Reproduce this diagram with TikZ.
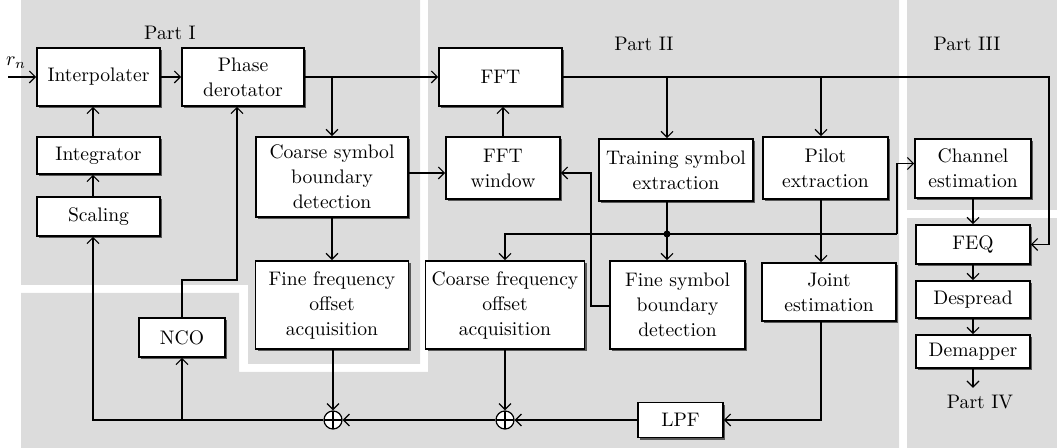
\documentclass[tikz,border=0pt]{standalone}
\usepackage{tikz}
\usetikzlibrary{arrows.meta,shadows}

\definecolor{partgray}{RGB}{220,220,220}

\tikzset{
  blk/.style={draw, line width=0.8pt, fill=white, align=center, inner sep=1pt,
    drop shadow={shadow xshift=1.2pt, shadow yshift=-1.2pt, fill=black!65, opacity=1}},
  wh/.style 2 args={minimum width=#1, minimum height=#2},
  adder/.style={circle, draw, fill=white, minimum size=9pt, inner sep=0pt,
    path picture={\draw (path picture bounding box.north) -- (path picture bounding box.south)
      (path picture bounding box.west) -- (path picture bounding box.east);}},
}

\begin{document}
\begin{tikzpicture}[x=0.5pt, y=-0.5pt, line width=0.6pt,
    >={Straight Barb[length=3pt,width=6pt]},
    font=\fontsize{9.8}{12.5}\selectfont]
  \useasboundingbox (0,0) rectangle (1057,448);

  % grey parts
  \fill[partgray] (21,0) -- (420,0) -- (420,364) -- (248,364) -- (248,285) -- (21,285) -- cycle;
  \fill[partgray] (428,0) -- (899,0) -- (899,448) -- (21,448) -- (21,293) -- (239,293)
    -- (239,372) -- (428,372) -- cycle;
  \fill[partgray] (907,0) rectangle (1057,210);
  \fill[partgray] (907,218) rectangle (1057,448);

  \node (p1) at (170,33) {Part I};
  \node (p2) at (644,44) {Part II};
  \node (p3) at (967,44) {Part III};

  % part I
  \node[blk, wh={61.5pt}{29pt}] (interp) at (98.5,77) {Interpolater};
  \node[blk, wh={61pt}{29pt}] (phase) at (243,77) {Phase\\derotator};
  \node[blk, wh={61.5pt}{18.5pt}] (intg) at (98.5,155.5) {Integrator};
  \node[blk, wh={61.5pt}{19.5pt}] (scl) at (98.5,216.5) {Scaling};
  \node[blk, wh={76pt}{40pt}] (csbd) at (332,177) {Coarse symbol\\boundary\\detection};
  \node[blk, wh={76.5pt}{44pt}] (ffoa) at (332,305) {Fine frequency\\offset\\acquisition};
  \node[blk, wh={43pt}{19.5pt}] (nco) at (182,337.5) {NCO};

  % part II
  \node[blk, wh={61.5pt}{29pt}] (fft) at (500.5,77) {FFT};
  \node[blk, wh={57pt}{31pt}] (fftw) at (503,168) {FFT\\window};
  \node[blk, wh={77pt}{31pt}] (trn) at (676,170) {Training symbol\\extraction};
  \node[blk, wh={62.5pt}{31pt}] (plt) at (825.5,168) {Pilot\\extraction};
  \node[blk, wh={79.5pt}{44pt}] (cfoa) at (505,305) {Coarse frequency\\offset\\acquisition};
  \node[blk, wh={67.5pt}{44pt}] (fsbd) at (677.5,305) {Fine symbol\\boundary\\detection};
  \node[blk, wh={67pt}{29pt}] (jnt) at (829,292) {Joint\\estimation};
  \node[blk, wh={42.5pt}{17.5pt}] (lpf) at (680.5,420) {LPF};
  \node[adder] (s1) at (333,420) {};
  \node[adder] (s2) at (505,420) {};

  % part III and IV
  \node[blk, wh={58pt}{29.5pt}] (chn) at (973,168.5) {Channel\\estimation};
  \node[blk, wh={57pt}{19.5pt}] (feq) at (973,244.5) {FEQ};
  \node[blk, wh={57pt}{18.5pt}] (dsp) at (973,299.5) {Despread};
  \node[blk, wh={57pt}{16.5pt}] (dmp) at (973,351.5) {Demapper};
  \node (p4) at (980,402) {Part IV};

  % corners of the connectors
  \coordinate (rn) at (8,77);
  \coordinate (fr) at (1049,77);
  \coordinate (tx) at (667,234);
  \coordinate (cx) at (897,234);
  \coordinate (jx) at (821,420);
  \coordinate (wx) at (591,306);
  \coordinate (lx) at (93,420);
  \coordinate (nx) at (237,280);

  \node (rnl) at (16,63) {$r_n$};
  \draw[->] (rn) -- (interp.west);
  \draw[->] (interp) -- (phase);
  \draw[->] (phase.east) -- (fft.west);
  \draw[->] (csbd.north |- phase.east) -- (csbd.north);
  \draw[->] ([yshift=-2.5pt]fftw.west -| csbd.east) -- ([yshift=-2.5pt]fftw.west);
  \draw[->] (csbd) -- (ffoa);
  \draw[->] (fftw.north) -- (fftw.north |- fft.south);
  \draw[->] (fft.east) -- (fr) |- (feq.east);
  \draw[->] (fft.east -| tx) -- (trn.north -| tx);
  \draw[->] (fft.east -| jx) -- (plt.north -| jx);
  \draw (trn.south -| tx) -- (tx);
  \draw[->] (tx) -- (fsbd.north -| tx);
  \fill (tx) circle (3.5);
  \draw[->] (cx) -- (tx) -| (cfoa.north);
  \draw[->] (cx) |- ([yshift=2.5pt]chn.west);
  \draw[->] (plt.south -| jx) -- (jnt.north -| jx);
  \draw[->] (jnt.south -| jx) -- (jx) -- (lpf.east);
  \draw[->] (fsbd.west |- wx) -- (wx) |- ([yshift=-2.5pt]fftw.east);
  \draw[->] (lpf) -- (s2);
  \draw[->] (cfoa) -- (s2);
  \draw[->] (s2) -- (s1);
  \draw[->] (ffoa.south -| s1) -- (s1);
  \draw[->] (s1) -- (lx) -- (scl.south -| lx);
  \draw[->] (scl.north -| lx) -- (intg.south -| lx);
  \draw[->] (intg.north -| lx) -- (interp.south -| lx);
  \draw[->] (nco.south |- s1) -- (nco.south);
  \draw[->] (nco.north) |- (nx) -- (phase.south -| nx);
  \draw[->] (chn) -- (feq);
  \draw[->] (feq) -- (dsp);
  \draw[->] (dsp) -- (dmp);
  \draw[->] (dmp.south) -- (dmp.south |- p4.north);
\end{tikzpicture}
\end{document}
